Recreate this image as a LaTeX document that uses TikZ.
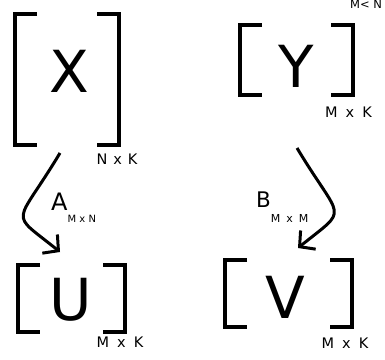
\documentclass[tikz,border=0pt]{standalone}
\usepackage{fontspec}
\setmainfont{DejaVu Sans}
\usetikzlibrary{arrows.meta, positioning}

\begin{document}
\begin{tikzpicture}[x=1pt, y=1pt,
    mat/.style={inner sep=0pt, outer sep=0pt},
    bracket/.style={line width=3.4pt},
    letter/.style={inner sep=0pt, font=\fontsize{58}{60}\selectfont},
    dims/.style={inner sep=0pt, anchor=base, font=\fontsize{14.5}{16}\selectfont},
    maplabel/.style={inner sep=0pt, anchor=base west},
    arrow/.style={-{Straight Barb[length=11pt, width=24pt]}, line width=3pt}
]
    \useasboundingbox (0,0) rectangle (385,359);

    % matrices
    \node[mat, minimum width=104pt, minimum height=131pt] (mX) at (67,279.5) {};
    \node[mat, minimum width=113pt, minimum height=70pt] (mY) at (296.5,299) {};
    \node[mat, minimum width=107pt, minimum height=67pt] (mU) at (71.5,60.5) {};
    \node[mat, minimum width=127pt, minimum height=67pt] (mV) at (288.5,65.5) {};

    \foreach \m in {mX, mY, mU, mV} {
        \draw[bracket] ([xshift=22pt]\m.north west) -| (\m.south west) -- ++(22,0);
        \draw[bracket] ([xshift=-22pt]\m.north east) -| (\m.south east) -- ++(-22,0);
    }

    \node[letter] (X) at ([shift={(2,8.5)}]mX.center) {X};
    \node[letter] (Y) at ([shift={(-0.5,-6)}]mY.center) {Y};
    \node[letter] (U) at ([shift={(-0.5,-1.5)}]mU.center) {U};
    \node[letter] (V) at ([shift={(-3.5,-4)}]mV.center) {V};

    % sizes
    \node[dims] (dX) at ([shift={(-2,-20)}]mX.south east) {N\hspace{6pt}x\hspace{6pt}K};
    \node[dims] (dY) at ([shift={(-4.5,-23)}]mY.south east) {M\hspace{8pt}x\hspace{8pt}K};
    \node[dims] (dU) at ([shift={(-5,-15)}]mU.south east) {M\hspace{8pt}x\hspace{8pt}K};
    \node[dims] (dV) at ([shift={(-7,-21)}]mV.south east) {M\hspace{8pt}x\hspace{8pt}K};
    \node[maplabel, font=\fontsize{11.5}{13}\selectfont] (cond) at (350,350) {M< N};

    % maps
    \draw[arrow] ([shift={(-7,-8)}]mX.south) .. controls +(-45,-75) and +(-52,42) .. ([shift={(-11.5,13)}]mU.north);
    \draw[arrow] ([shift={(0.5,-53)}]mY.south) .. controls +(45,-75) and +(52,42) .. ([shift={(9.5,12)}]mV.north);

    \node[maplabel, font=\fontsize{24}{26}\selectfont] (A) at (51,149)
        {A\raisebox{-12pt}{\fontsize{10}{11}\selectfont M x N}};
    \node[maplabel, font=\fontsize{21.5}{24}\selectfont] (B) at (256,152)
        {B\raisebox{-15pt}{\fontsize{11}{13}\selectfont M\hspace{6pt}x\hspace{6pt}M}};
\end{tikzpicture}
\end{document}
